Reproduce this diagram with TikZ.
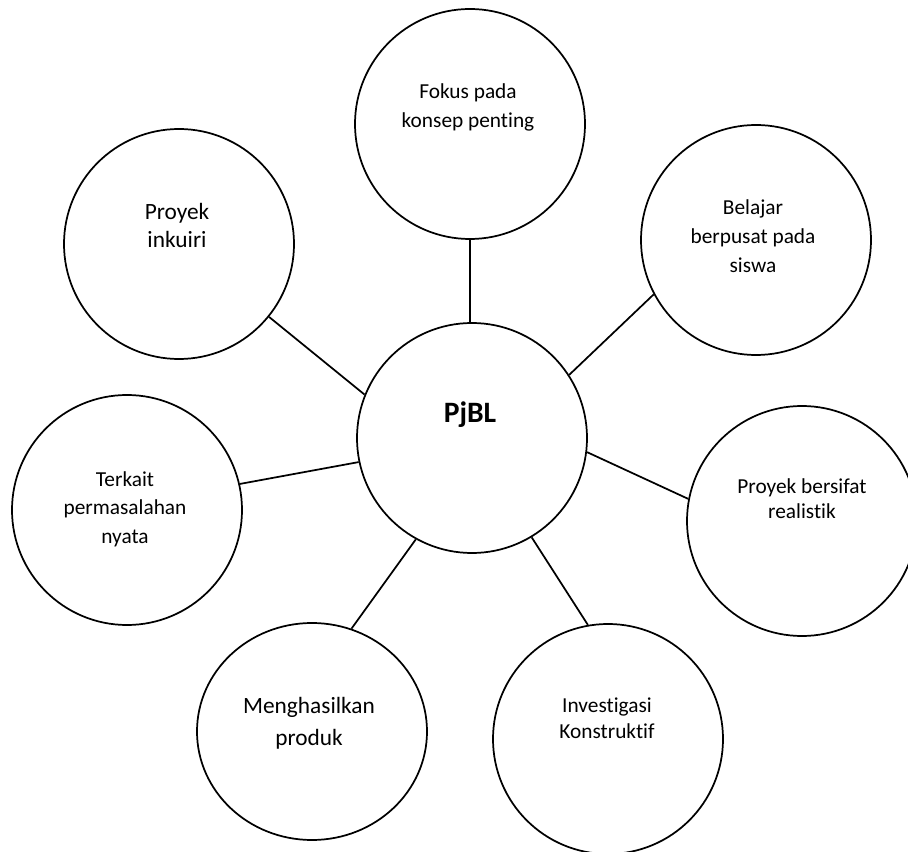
\documentclass[tikz,border=0pt]{standalone}
\usepackage{fontspec}
\setmainfont{Carlito}[Ligatures=NoCommon]
\usetikzlibrary{shapes.geometric}

\begin{document}
\begin{tikzpicture}[x=.75pt,y=-.75pt,line width=1.3pt,
  bubble/.style={draw,circle,minimum size=172.5pt,inner sep=0pt},
  txt/.style={anchor=base,align=center,inner sep=0pt,font=\fontsize{16}{21.75}\selectfont},
  bigtxt/.style={txt,font=\fontsize{17.5}{22.5}\selectfont}]
\useasboundingbox (0,0) rectangle (908,852);
\node[bubble] (pjbl) at (472,438) {};
\node[bubble] (fokus) at (470,124) {};
\node[bubble] (belajar) at (756,240) {};
\node[bubble] (realistik) at (802,521) {};
\node[bubble] (investigasi) at (608,739) {};
\node[draw,ellipse,minimum width=172.5pt,minimum height=162.75pt,inner sep=0pt] (produk) at (312,731.5) {};
\node[bubble] (terkait) at (127,510) {};
\node[bubble] (inkuiri) at (179,244) {};
\node[txt,font=\fontsize{22.2}{26}\selectfont\bfseries] at (470,423) {PjBL};
\node[txt] at (468,128) {Fokus pada\\konsep penting};
\node[txt] at (753,273) {Belajar\\berpusat pada\\siswa};
\node[txt,font=\fontsize{16}{19.5}\selectfont] at (802,519) {Proyek bersifat\\realistik};
\node[txt,font=\fontsize{16}{19.5}\selectfont] at (607,738) {Investigasi\\Konstruktif};
\node[bigtxt,font=\fontsize{17.5}{24}\selectfont] at (309,745) {Menghasilkan\\produk};
\node[txt] at (125,544) {Terkait\\permasalahan\\nyata};
\node[bigtxt,font=\fontsize{17.5}{21}\selectfont] at (177,248) {Proyek\\inkuiri};
\draw (pjbl.91)--(fokus.270);
\draw (pjbl.33)--(belajar.208);
\draw (pjbl.-7)--(realistik.169);
\draw (pjbl.-59)--(investigasi.100);
\draw (pjbl.241)--(produk.69);
\draw (pjbl.192)--(terkait.13);
\draw (pjbl.158)--(inkuiri.-39);
\end{tikzpicture}
\end{document}
